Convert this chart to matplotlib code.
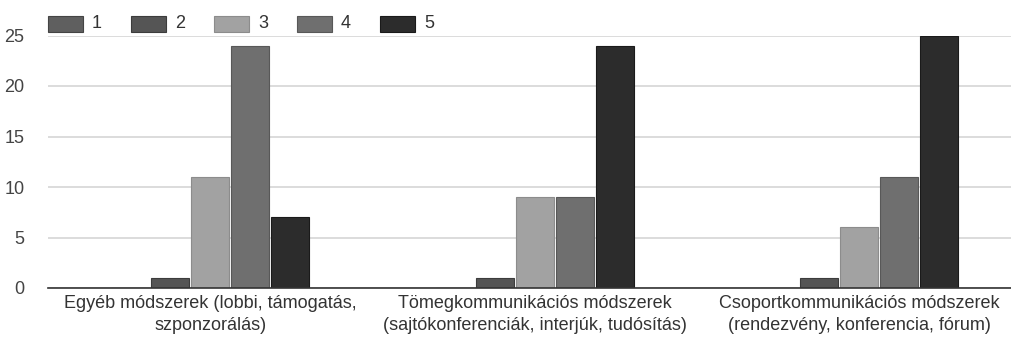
import matplotlib
matplotlib.use("Agg")
import matplotlib.pyplot as plt
from matplotlib.patches import Rectangle
import numpy as np

categories = [
    "Egyéb módszerek (lobbi, támogatás,\nszponzorálás)",
    "Tömegkommunikációs módszerek\n(sajtókonferenciák, interjúk, tudósítás)",
    "Csoportkommunikációs módszerek\n(rendezvény, konferencia, fórum)",
]
series_names = ["1", "2", "3", "4", "5"]
series_values = [
    [0, 0, 0],
    [1, 1, 1],
    [11, 9, 6],
    [24, 9, 11],
    [7, 24, 25],
]
series_colors = ["#5f5f5f", "#555555", "#a2a2a2", "#6f6f6f", "#2c2c2c"]
edge_colors = ["#444444", "#3c3c3c", "#8c8c8c", "#585858", "#1a1a1a"]
yticks = [0, 5, 10, 15, 20, 25]

plt.rcParams["font.family"] = ["Liberation Sans", "DejaVu Sans"]
FS = 13

W, H = 1011, 339
fig = plt.figure(figsize=(W / 100, H / 100), dpi=100)
ax_left, ax_right, ax_bottom, ax_top = 48, 1011, 288, 35.5
ax = fig.add_axes([ax_left / W, 1 - ax_bottom / H,
                   (ax_right - ax_left) / W, (ax_bottom - ax_top) / H])

px_per_unit = 324.5
x = np.arange(len(categories))
bar_w = 40 / px_per_unit
for i, (vals, c, ec) in enumerate(zip(series_values, series_colors, edge_colors)):
    offs = (i - 2) * bar_w
    ax.bar(x + offs, vals, width=bar_w * 0.95, color=c, edgecolor=ec,
           linewidth=0.8, zorder=3)

ax.set_xlim(-0.5, -0.5 + (ax_right - ax_left) / px_per_unit)
ax.set_ylim(0, 25)
ax.set_yticks(yticks)
ax.set_yticklabels([str(t) for t in yticks], fontsize=FS, color="#444444")
ax.set_xticks(x)
ax.set_xticklabels(categories, fontsize=FS, color="#333333", linespacing=1.42)
ax.tick_params(axis="both", length=0)
ax.tick_params(axis="y", pad=17)
ax.tick_params(axis="x", pad=5)
ax.grid(axis="y", color="#d6d6d6", linewidth=1.2, zorder=0)
for s in ["top", "right", "left"]:
    ax.spines[s].set_visible(False)
ax.spines["bottom"].set_color("#333333")
ax.spines["bottom"].set_linewidth(1.2)
ax.spines["bottom"].set_zorder(4)

# legend row above the plot
for i, (name, c, ec) in enumerate(zip(series_names, series_colors, edge_colors)):
    lx = 48 + 83 * i
    fig.patches.append(Rectangle((lx / W, 1 - 32 / H), 35 / W, 16 / H,
                                 transform=fig.transFigure, facecolor=c,
                                 edgecolor=ec, linewidth=0.8))
    fig.text((lx + 44) / W, 1 - 24 / H, name, fontsize=FS, color="#333333",
             va="center", ha="left")

fig.savefig("out.png", dpi=100)
